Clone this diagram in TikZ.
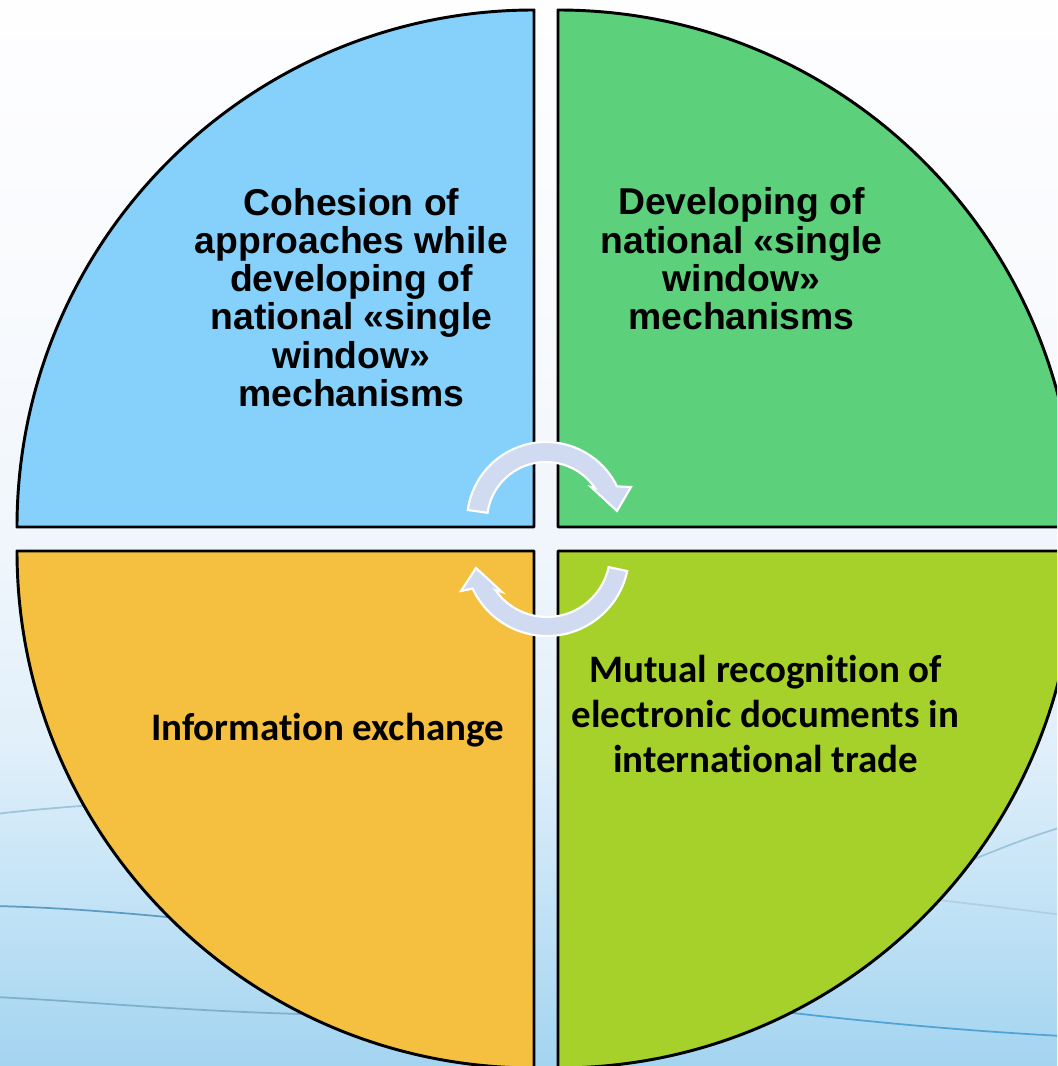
\documentclass[tikz,border=0pt]{standalone}
\usepackage{fontspec}
\newfontfamily\arialfont{Liberation Sans}
\newfontfamily\calfont{Carlito}[Ligatures=NoCommon]
\definecolor{bgA}{HTML}{A3D4F0}
\definecolor{bgB}{HTML}{C3E3F6}
\definecolor{bgC}{HTML}{E0EFFA}
\definecolor{bgD}{HTML}{F0F6FC}
\definecolor{bgE}{HTML}{F8FAFD}
\definecolor{bgF}{HTML}{FEFEFF}
\definecolor{qblue}{HTML}{85D1FC}
\definecolor{qgreen}{HTML}{5CD07A}
\definecolor{qorange}{HTML}{F5C040}
\definecolor{qlime}{HTML}{A6D12A}
\definecolor{arrowfill}{HTML}{D0DAF0}
\definecolor{waveA}{HTML}{5E9BC0}
\definecolor{waveB}{HTML}{9CC4DB}
\definecolor{waveC}{HTML}{4FA3D6}
\pgfdeclareverticalshading{bgshade}{100bp}{color(0bp)=(bgA); color(25bp)=(bgA); color(32.8bp)=(bgB); color(39.8bp)=(bgC); color(49.2bp)=(bgD); color(61bp)=(bgE); color(75bp)=(bgF); color(100bp)=(bgF)}
\begin{document}
\begin{tikzpicture}[x=0.75pt,y=-0.75pt,
  quad/.style={draw=black, line width=2.2pt, line join=round},
  cyc/.style={fill=arrowfill, draw=white, line width=1.6pt, line join=miter},
  toptext/.style={font=\arialfont\bfseries\fontsize{28}{28.65}\selectfont, align=center, inner sep=0pt},
  bottext/.style={font=\calfont\bfseries\fontsize{29.2}{33.75}\selectfont, align=center, inner sep=0pt},
  wave/.style={line width=1.3pt, line cap=round}]
\useasboundingbox (0,0) rectangle (1057,1066);
\clip (0,0) rectangle (1057,1066);
% background
\shade[shading=bgshade] (0,0) rectangle (1057,1066);
% wavy lines
\draw[wave, waveB] (-5,814) .. controls (40,809) and (100,803) .. (200,800);
\draw[wave, waveA] (-5,906) .. controls (80,908) and (150,915) .. (300,930);
\draw[wave, waveA!80] (-5,997) .. controls (100,1002) and (200,1013) .. (350,1015);
\draw[wave, waveB] (1062,827) .. controls (1020,840) and (990,852) .. (900,890);
\draw[wave, waveB!80] (900,895) .. controls (960,903) and (1010,908) .. (1062,915);
\draw[wave, waveC] (750,1008) .. controls (850,1020) and (950,1030) .. (1062,1036);
% quadrants
\path[quad, fill=qblue] (534,527) -- (17,527) arc[start angle=180, end angle=270, radius=517] -- cycle;
\path[quad, fill=qgreen] (558,527) -- (558,10) arc[start angle=270, end angle=360, radius=517] -- cycle;
\path[quad, fill=qorange] (534,551) -- (534,1068) arc[start angle=90, end angle=180, radius=517] -- cycle;
\path[quad, fill=qlime] (558,551) -- (1075,551) arc[start angle=0, end angle=90, radius=517] -- cycle;
% circular arrows
\path[cyc] (546,521) ++(188:79) arc[start angle=188, end angle=334, radius=79]
  -- (631,487) -- (617,511) -- (591,487) -- (594.9,488)
  arc[start angle=326, end angle=188, radius=59] -- cycle;
\path[cyc] (547,554) ++(12:82) arc[start angle=12, end angle=155, radius=82]
  -- (461,591) -- (476,568) -- (502,592) -- (495.4,590.1)
  arc[start angle=145, end angle=12, radius=63] -- cycle;
% texts
\node[toptext] (tl) at (351.5,297.4) {Cohesion of\\approaches while\\developing of\\national «single\\window»\\mechanisms};
\node[toptext] (tr) at (741.5,258.9) {Developing of\\national «single\\window»\\mechanisms};
\node[bottext, anchor=base] (bl) at (327.5,740) {Information exchange};
\node[bottext] (br) at (765.5,714) {Mutual recognition of\\electronic documents in\\international trade};
\end{tikzpicture}
\end{document}
